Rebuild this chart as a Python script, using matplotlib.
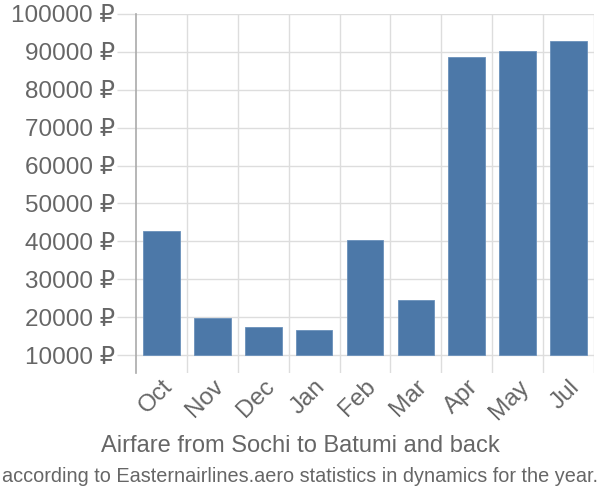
import matplotlib
matplotlib.use("Agg")
import matplotlib.pyplot as plt

months = ["Oct", "Nov", "Dec", "Jan", "Feb", "Mar", "Apr", "May", "Jul"]
prices = [42700, 19800, 17400, 16600, 40400, 24500, 88700, 90200, 92800]
yticks = list(range(10000, 100001, 10000))
base = 10000

plt.rcParams["font.family"] = ["Liberation Sans", "DejaVu Sans"]

fig = plt.figure(figsize=(6, 5), dpi=100)
ax = fig.add_axes([0.2267, 0.254, 0.7633, 0.718])

x = list(range(len(months)))
ax.bar(x, [p - base for p in prices], bottom=base, width=0.72,
       color="#4c78a8", edgecolor="#6a90bb", linewidth=0.6, zorder=3)

ax.set_xlim(-0.5, len(months) - 0.5)
ax.set_ylim(base - 4750, 100000)
ax.set_yticks(yticks)
ax.set_yticklabels([f"{v} ₽" for v in yticks])

# grid: horizontal at ticks, vertical at category boundaries
for v in yticks:
    ax.axhline(v, color="#dddddd", linewidth=1, zorder=1)
for b in range(1, len(months) + 1):
    ax.axvline(b - 0.5, color="#dddddd", linewidth=1, zorder=1)

ax.set_xticks(x)
ax.set_xticklabels(months, rotation=45, ha="right", rotation_mode="anchor")
ax.tick_params(axis="x", length=0, pad=2, labelsize=17.5, labelcolor="#666666")
ax.tick_params(axis="y", length=14, width=1, color="#dddddd", pad=1,
               labelsize=17.5, labelcolor="#666666")

for s in ["top", "right", "bottom"]:
    ax.spines[s].set_visible(False)
ax.spines["left"].set_color("#aaaaaa")
ax.spines["left"].set_linewidth(1.2)

fig.text(0.5, 0.108, "Airfare from Sochi to Batumi and back",
         ha="center", va="center", fontsize=17, color="#666666")
fig.text(0.5, 0.047, "according to Easternairlines.aero statistics in dynamics for the year.",
         ha="center", va="center", fontsize=14.3, color="#666666")

fig.savefig("out.png", dpi=100)
